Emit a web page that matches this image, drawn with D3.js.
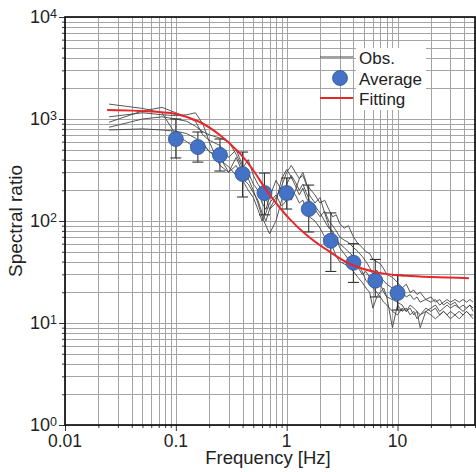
<!DOCTYPE html>
<meta charset="utf-8">
<style>
    body { margin: 0; background: #fff; }
    text { font-family: "Liberation Sans", Arial, sans-serif; fill: #222; }
    .grid line { stroke: #a4a4a4; stroke-width: 1; }
    .obs { fill: none; stroke: #444; stroke-width: 0.9px; }
    .fit { fill: none; stroke: #e8262a; stroke-width: 2px; }
</style>
<body>
<script src="https://d3js.org/d3.v7.min.js"></script>
<script>
    // averages with error bars
    var avgFreq = [0.1, 0.158, 0.25, 0.4, 0.63, 1.0, 1.58, 2.5, 4.0, 6.3, 10];
    var avgValue = [637, 531, 444, 289, 188, 188, 131, 64, 39, 26, 19.7];
    var avgHigh = [1000, 746, 637, 474, 295, 264, 225, 120, 60, 42, 29.5];
    var avgLow = [415, 378, 309, 172, 115, 131, 78, 32, 25, 18, 13.4];

    // fitting curve
    var fitFreq = [0.024, 0.047, 0.1, 0.165, 0.249, 0.378, 0.494, 0.62, 0.75, 1.06, 1.51, 2.44, 3.9, 6.9, 12, 44];
    var fitValue = [1225, 1200, 1120, 935, 697, 460, 320, 220, 165, 105, 73, 50, 37, 31, 29, 27.5];

    // observed spectral ratios
    var obsFreq = [0.025, 0.05, 0.075, 0.1, 0.125, 0.15, 0.175, 0.2,
        0.25, 0.3, 0.35, 0.4, 0.45, 0.5, 0.55, 0.6, 0.65, 0.7, 0.8, 0.9, 1.0,
        1.1, 1.2, 1.3, 1.4, 1.5, 1.6, 1.8, 2.0, 2.2, 2.4, 2.6, 2.8, 3.0,
        3.3, 3.6, 4.0, 4.4, 4.8, 5.2, 5.6, 6.0, 6.5, 7.0, 7.5, 8.0, 9.0, 10,
        11, 12, 13, 14, 15, 16, 18, 20, 22, 24, 26, 28, 30, 33, 36, 39, 42, 45, 48];
    var obs1 = [1400, 1270, 1150, 700, 600, 520, 580, 480,
        420, 300, 350, 260, 230, 190, 160, 120, 100, 130, 170, 220, 300,
        350, 300, 260, 280, 230, 210, 180, 150, 160, 130, 110, 115, 95,
        85, 90, 70, 60, 55, 50, 48, 42, 40, 38, 34, 30, 28, 25,
        22, 24, 20, 21, 19, 20, 17, 18, 16, 17, 15, 16, 15, 16, 14, 15, 14, 15, 14];
    var obs2 = [1050, 1150, 1100, 1080, 1100, 1150, 900, 600,
        350, 300, 420, 300, 260, 200, 150, 110, 90, 75, 100, 160, 230,
        280, 240, 200, 230, 190, 160, 140, 120, 100, 85, 80, 65, 60,
        55, 50, 45, 38, 32, 26, 24, 22, 20, 18, 16, 15, 13, 12,
        14, 13, 15, 14, 13, 12, 14, 13, 14, 12, 13, 12, 13, 12, 13, 12, 13, 12, 12];
    var obs3 = [930, 1200, 1300, 1150, 1050, 950, 700, 620,
        550, 420, 500, 350, 300, 230, 200, 150, 130, 170, 250, 200, 180,
        160, 200, 260, 300, 240, 180, 150, 170, 120, 90, 75, 70, 55,
        48, 42, 40, 35, 30, 32, 28, 25, 22, 24, 20, 18, 9, 15,
        13, 14, 12, 13, 11, 12, 13, 12, 11, 12, 13, 12, 11, 12, 11, 12, 13, 12, 11];
    var obs4 = [830, 1000, 1050, 1000, 950, 850, 750, 700,
        650, 600, 450, 330, 400, 280, 230, 200, 170, 130, 150, 260, 320,
        270, 220, 180, 210, 170, 150, 130, 110, 125, 100, 90, 80, 70,
        65, 62, 55, 50, 45, 40, 35, 30, 33, 28, 26, 24, 22, 20,
        20, 18, 19, 17, 18, 16, 17, 16, 17, 15, 16, 17, 16, 17, 16, 17, 16, 17, 16];
    var obs5 = [780, 800, 780, 760, 720, 650, 560, 480,
        400, 340, 280, 250, 200, 170, 130, 100, 120, 150, 180, 140, 160,
        200, 180, 150, 160, 130, 110, 100, 85, 70, 60, 55, 45, 40,
        38, 36, 32, 28, 25, 22, 20, 14, 18, 20, 22, 18, 17, 16,
        15, 13, 14, 12, 13, 9, 13, 14, 15, 13, 14, 15, 14, 15, 14, 13, 14, 15, 13];
    var obsSeries = [obs1, obs2, obs3, obs4, obs5];

    var legendLabels = ["Obs.", "Average", "Fitting"];

    // plot box
    var margin = { top: 17, right: 1, bottom: 47, left: 65 },
        width = 476 - margin.left - margin.right,
        height = 472 - margin.top - margin.bottom;

    var x = d3.scaleLog().domain([0.01, 50]).range([0, width]);
    var y = d3.scaleLog().domain([1, 1e4]).range([height, 0]);

    var svg = d3.select("body").append("svg")
        .attr("width", 476)
        .attr("height", 472)
        .append("g")
        .attr("transform", "translate(" + margin.left + "," + margin.top + ")");

    // all 1..9 x 10^n values inside a domain
    function logTicks(lo, hi) {
        var out = [];
        for (var e = Math.floor(Math.log10(lo)); e <= Math.ceil(Math.log10(hi)); e++) {
            for (var k = 1; k < 10; k++) {
                var v = +(k * Math.pow(10, e)).toPrecision(3);
                if (v >= lo * 0.999 && v <= hi * 1.001) out.push(v);
            }
        }
        return out;
    }
    var xTicks = logTicks(0.01, 50);
    var yTicks = logTicks(1, 1e4);
    function isMajor(v) { return Math.abs(Math.log10(v) - Math.round(Math.log10(v))) < 1e-6; }

    // grid
    var grid = svg.append("g").attr("class", "grid");
    grid.selectAll(".gx").data(xTicks).enter().append("line")
        .attr("x1", function (d) { return Math.round(x(d)) + 0.5; })
        .attr("x2", function (d) { return Math.round(x(d)) + 0.5; })
        .attr("y1", 0).attr("y2", height);
    grid.selectAll(".gy").data(yTicks).enter().append("line")
        .attr("y1", function (d) { return Math.round(y(d)) + 0.5; })
        .attr("y2", function (d) { return Math.round(y(d)) + 0.5; })
        .attr("x1", 0).attr("x2", width);

    // observed lines
    var line = d3.line()
        .x(function (d) { return x(d[0]); })
        .y(function (d) { return y(d[1]); });
    obsSeries.forEach(function (s) {
        svg.append("path")
            .datum(obsFreq.map(function (f, i) { return [f, s[i]]; }))
            .attr("class", "obs")
            .attr("d", line);
    });

    // error bars
    var bars = svg.append("g");
    avgFreq.forEach(function (f, i) {
        var cx = x(f);
        bars.append("line").attr("x1", cx).attr("x2", cx)
            .attr("y1", y(avgLow[i])).attr("y2", y(avgHigh[i]));
        [avgLow[i], avgHigh[i]].forEach(function (v) {
            bars.append("line").attr("x1", cx - 5.5).attr("x2", cx + 5.5)
                .attr("y1", y(v)).attr("y2", y(v));
        });
    });
    bars.selectAll("line").attr("stroke", "#333").attr("stroke-width", 1.1);

    // averages
    svg.selectAll(".avg").data(avgFreq).enter().append("circle")
        .attr("cx", function (d) { return x(d); })
        .attr("cy", function (d, i) { return y(avgValue[i]); })
        .attr("r", 7.5)
        .attr("fill", "#4472c4")
        .attr("stroke", "#2f5597")
        .attr("stroke-width", 0.8);

    // fitting curve
    var smooth = d3.line()
        .x(function (d) { return x(d[0]); })
        .y(function (d) { return y(d[1]); })
        .curve(d3.curveCatmullRom.alpha(0.5));
    svg.append("path")
        .datum(fitFreq.map(function (f, i) { return [f, fitValue[i]]; }))
        .attr("class", "fit")
        .attr("d", smooth);

    // axes: major and minor ticks
    var yAxis = d3.axisLeft(y).tickValues(yTicks).tickFormat("")
        .tickSizeOuter(0)
        .tickSizeInner(3);
    var gy = svg.append("g").call(yAxis);
    gy.selectAll(".tick line").attr("x2", function (d) { return isMajor(d) ? -6 : -3; });

    var xAxis = d3.axisBottom(x).tickValues(xTicks).tickFormat("")
        .tickSizeOuter(0)
        .tickSizeInner(3);
    var gx = svg.append("g").attr("transform", "translate(0," + height + ")").call(xAxis);
    gx.selectAll(".tick line").attr("y2", function (d) { return isMajor(d) ? 6 : 3; });
    svg.selectAll(".domain").remove();
    svg.selectAll(".tick line").attr("stroke", "#333");

    // frame
    svg.append("rect")
        .attr("width", width).attr("height", height)
        .attr("fill", "none").attr("stroke", "#111").attr("stroke-width", 1.7);

    // y labels 10^n
    var yMajor = yTicks.filter(isMajor);
    var yl = svg.selectAll(".ylab").data(yMajor).enter().append("text")
        .attr("x", -8)
        .attr("y", function (d) { return y(d); })
        .attr("dy", "0.36em")
        .attr("text-anchor", "end")
        .style("font-size", "18px");
    yl.append("tspan").text("10");
    yl.append("tspan").attr("dy", "-0.45em").style("font-size", "12.5px")
        .text(function (d) { return Math.round(Math.log10(d)); });

    // x labels
    var xMajor = [0.01, 0.1, 1, 10];
    svg.selectAll(".xlab").data(xMajor).enter().append("text")
        .attr("x", function (d) { return x(d); })
        .attr("y", height + 22)
        .attr("text-anchor", "middle")
        .style("font-size", "17.5px")
        .text(function (d) { return d; });

    // axis titles
    svg.append("text")
        .attr("x", width / 2 - 2)
        .attr("y", height + 39)
        .attr("text-anchor", "middle")
        .style("font-size", "18.5px")
        .text("Frequency [Hz]");
    svg.append("text")
        .attr("transform", "translate(" + (22 - margin.left) + "," + (height / 2) + ") rotate(-90)")
        .attr("text-anchor", "middle")
        .style("font-size", "19px")
        .text("Spectral ratio");

    // legend
    var lg = svg.append("g").attr("transform", "translate(" + (-margin.left) + "," + (-margin.top) + ")");
    lg.append("rect").attr("x", 356).attr("y", 48).attr("width", 70).attr("height", 62).attr("fill", "#fff");
    lg.append("line").attr("x1", 320).attr("x2", 353).attr("y1", 57).attr("y2", 57)
        .attr("stroke", "#444").attr("stroke-width", 1);
    lg.append("circle").attr("cx", 340).attr("cy", 78).attr("r", 7.5)
        .attr("fill", "#4472c4").attr("stroke", "#2f5597").attr("stroke-width", 0.8);
    lg.append("line").attr("x1", 320).attr("x2", 353).attr("y1", 98).attr("y2", 98)
        .attr("stroke", "#e8262a").attr("stroke-width", 2);
    lg.selectAll(".lt").data(legendLabels).enter().append("text")
        .attr("x", 359)
        .attr("y", function (d, i) { return 64 + i * 20.5; })
        .style("font-size", "17px")
        .text(function (d) { return d; });
</script>
</body>
